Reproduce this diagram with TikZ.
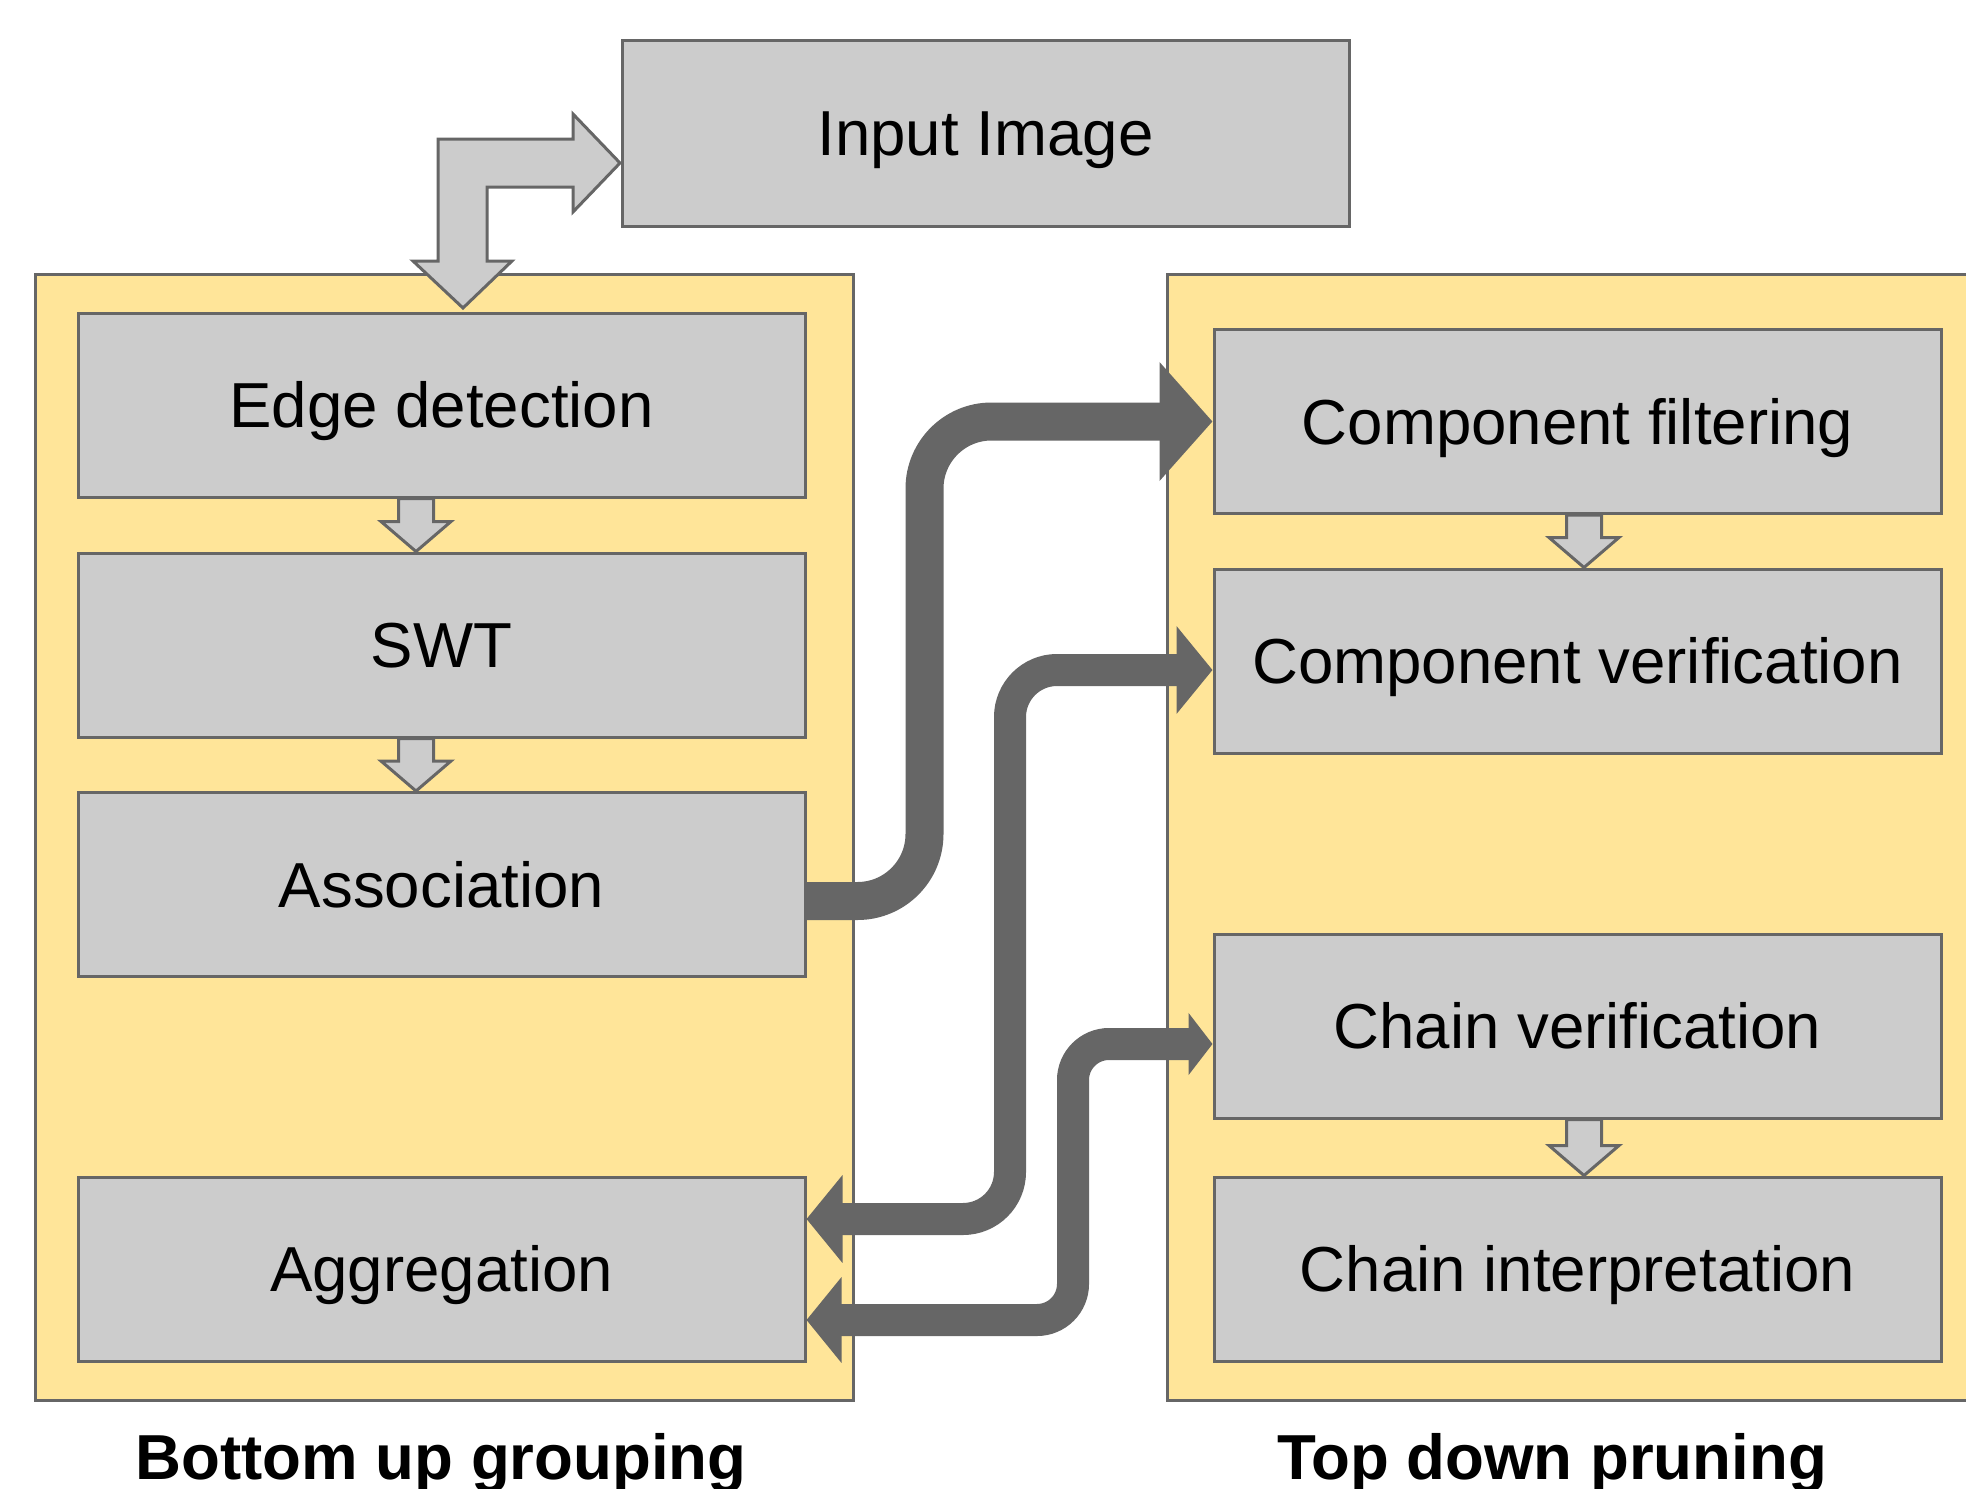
\documentclass[tikz,border=0pt]{standalone}
\usepackage{fontspec}
\setmainfont{Liberation Sans}
\usetikzlibrary{arrows.meta,calc}
\definecolor{boxgray}{HTML}{CCCCCC}
\definecolor{edgegray}{HTML}{666666}
\definecolor{panelyellow}{HTML}{FFE599}

% short block arrow between two stacked stages: #1 upper node, #2 lower node, #3 x position
\newcommand\stagearrow[3]{%
  \coordinate (sa-x) at (#3,0);
  \draw[blockarrow]
    ($(#1.south -| sa-x)+(-17.5,0)$) -- ($(#1.south -| sa-x)+(17.5,0)$)
    -- ($(#2.north -| sa-x)+(17.5,-30)$) -- ($(#2.north -| sa-x)+(35,-30)$)
    -- (#2.north -| sa-x)
    -- ($(#2.north -| sa-x)+(-35,-30)$) -- ($(#2.north -| sa-x)+(-17.5,-30)$)
    -- cycle;
}

\begin{document}
\begin{tikzpicture}[x=0.5pt,y=-0.5pt,
  stage/.style={draw=edgegray, fill=boxgray, line width=1.5pt,
    minimum width=363.5pt, minimum height=92pt, inner sep=0pt,
    text height=22.8pt, text depth=0pt,
    font=\fontsize{31.8pt}{38pt}\selectfont},
  panel/.style={draw=edgegray, fill=panelyellow, line width=1.5pt,
    inner sep=0pt, minimum width=#1},
  blockarrow/.style={draw=edgegray, fill=boxgray, line width=1.5pt, line join=miter},
  flow/.style={draw=edgegray, line width=#1},
  caption/.style={font=\bfseries\fontsize{31.8pt}{38pt}\selectfont,
    anchor=base, inner sep=0pt}
]
\useasboundingbox (0,0) rectangle (1966,1489);

% group panels
\node[panel=409pt, minimum height=563pt] (bottomup) at (444,837) {};
\node[panel=411.5pt, minimum height=563pt] (topdown) at (1578.5,837) {};

% stages
\node[stage, minimum height=93pt] (img) at (985.5,133) {Input Image};
\node[stage] (edge)   at (441.5,405)   {Edge detection};
\node[stage] (swt)    at (441.5,645)   {SWT};
\node[stage] (assoc)  at (441.5,884.5) {Association};
\node[stage] (aggr)   at (441.5,1269)  {Aggregation};
\node[stage] (compf)  at (1577.5,421.5) {Component filtering};
\node[stage] (compv)  at (1577.5,661)  {Component verification};
\node[stage] (chainv) at (1577.5,1026) {Chain verification};
\node[stage] (chaini) at (1577.5,1269) {Chain interpretation};

% short arrows inside the panels
\stagearrow{edge}{swt}{416}
\stagearrow{swt}{assoc}{416}
\stagearrow{compf}{compv}{1584}
\stagearrow{chainv}{chaini}{1584}

% two-headed elbow arrow between the input image and edge detection
\draw[blockarrow]
  (620,163) -- (573,114) -- (573,139) -- (438,139) -- (438,261) -- (413,261)
  -- (463,308) -- (512,261) -- (487,261) -- (487,187) -- (573,187)
  -- (573,212) -- cycle;

% connectors between the two groups
\draw[flow=19pt, rounded corners=33.5pt, -{Triangle[length=26.5pt,width=58pt]}]
  ([yshift=-8.25pt]assoc.east) -- ++(118,0) |- (compf.west);
\draw[flow=16pt, rounded corners=23.5pt,
  {Triangle[length=18pt,width=43pt]}-{Triangle[length=18pt,width=43pt]}]
  ([yshift=25pt]aggr.east) -| (1010,670) -- ([yshift=-4.5pt]compv.west);
\draw[flow=16pt, rounded corners=18pt,
  {Triangle[length=17.5pt,width=42pt]}-{Triangle[length=12pt,width=30.5pt]}]
  ([yshift=-25.5pt]aggr.east) -| (1073,1044) -- ([yshift=-9pt]chainv.west);

% group captions
\node[caption] (bu-label) at (441,1479) {Bottom up grouping};
\node[caption] (td-label) at (1552,1479) {Top down pruning};
\end{tikzpicture}
\end{document}
